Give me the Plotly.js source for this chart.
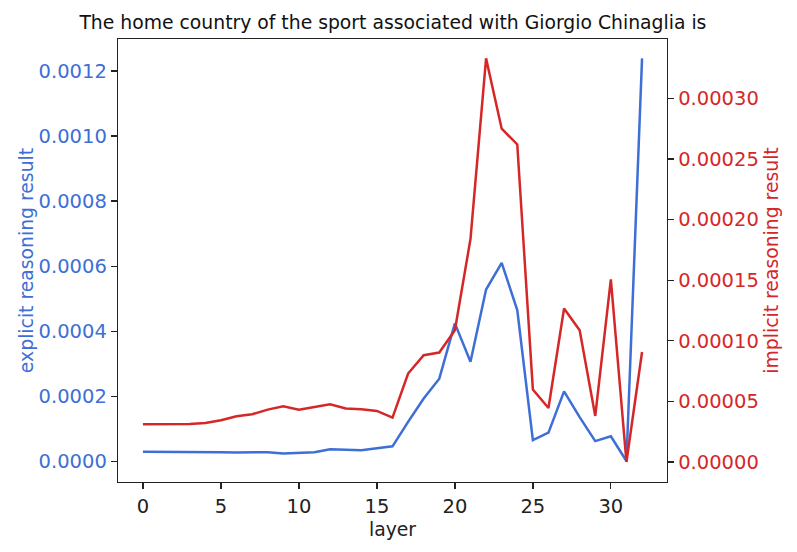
<!DOCTYPE html>
<html>
<head>
<meta charset="utf-8">
<script src="https://cdn.plot.ly/plotly-3.0.1.min.js"></script>
<style>
  body { margin: 0; background: #fff; }
  #chart { width: 797px; height: 552px; }
</style>
</head>
<body>
<div id="chart"></div>
<script>
// layers 0..32
const layers = [0, 1, 2, 3, 4, 5, 6, 7, 8, 9, 10, 11, 12, 13, 14, 15, 16,
  17, 18, 19, 20, 21, 22, 23, 24, 25, 26, 27, 28, 29, 30, 31, 32];

// left axis, blue
const explicitResult = [0.000029, 0.000029, 0.000028, 0.000029, 0.00003, 0.000028,
  0.000027, 0.000028, 0.000028, 0.000024, 0.000025, 0.000028, 0.000037, 0.000036,
  0.000034, 0.00004, 0.000046, 0.000121, 0.000193, 0.000254, 0.000424, 0.000306,
  0.000528, 0.00061, 0.000465, 0.000065, 0.000088, 0.000215, 0.000136, 0.000062,
  0.000077, 0.000001, 0.001239];

// right axis, red
const implicitResult = [0.0000311, 0.0000311, 0.0000311, 0.0000314, 0.0000322, 0.0000344,
  0.0000377, 0.0000394, 0.0000432, 0.000046, 0.0000432, 0.0000455, 0.0000476, 0.0000441,
  0.0000435, 0.0000421, 0.0000366, 0.000073, 0.0000881, 0.0000903, 0.0001087, 0.000184,
  0.000333, 0.000275, 0.000262, 0.0000598, 0.0000446, 0.0001266, 0.0001087, 0.000038,
  0.0001506, 0.0, 0.0000908];

const blue = "#3d6fd6";
const red = "#d62728";
const font = "DejaVu Sans";

const data = [
  {
    x: layers,
    y: explicitResult,
    type: "scatter",
    mode: "lines",
    line: { color: blue, width: 2.5 },
    yaxis: "y",
    showlegend: false
  },
  {
    x: layers,
    y: implicitResult,
    type: "scatter",
    mode: "lines",
    line: { color: red, width: 2.5 },
    yaxis: "y2",
    showlegend: false
  }
];

const layout = {
  width: 797,
  height: 552,
  margin: { l: 118, r: 130, t: 39, b: 70 },
  paper_bgcolor: "#fff",
  plot_bgcolor: "#fff",
  font: { family: font, size: 19.5, color: "#222" },
  title: {
    text: "The home country of the sport associated with Giorgio Chinaglia is",
    font: { family: font, size: 18.8, color: "#111" },
    x: 0.493, xanchor: "center",
    y: 0.96, yanchor: "middle"
  },
  xaxis: {
    title: { text: "layer", font: { size: 18.8, color: "#222" }, standoff: 6 },
    range: [-1.6, 33.6],
    tickvals: [0, 5, 10, 15, 20, 25, 30],
    ticks: "outside", ticklen: 6, tickwidth: 1.3, tickcolor: "#222",
    showgrid: false, zeroline: false,
    showline: true, linecolor: "#222", linewidth: 1.3, mirror: true,
    tickfont: { size: 19.5, color: "#222" }
  },
  yaxis: {
    title: { text: "explicit reasoning result", font: { size: 18.8, color: blue } },
    range: [-0.0000637, 0.0012985],
    tickvals: [0, 0.0002, 0.0004, 0.0006, 0.0008, 0.0010, 0.0012],
    ticktext: ["0.0000", "0.0002", "0.0004", "0.0006", "0.0008", "0.0010", "0.0012"],
    ticks: "outside", ticklen: 6, tickwidth: 1.3, tickcolor: "#222",
    showgrid: false, zeroline: false,
    showline: true, linecolor: "#222", linewidth: 1.3,
    tickfont: { size: 19.5, color: blue }
  },
  yaxis2: {
    title: { text: "implicit reasoning result", font: { size: 18.8, color: red } },
    overlaying: "y",
    side: "right",
    range: [-0.0000165, 0.000349],
    tickvals: [0, 0.00005, 0.0001, 0.00015, 0.0002, 0.00025, 0.0003],
    ticktext: ["0.00000", "0.00005", "0.00010", "0.00015", "0.00020", "0.00025", "0.00030"],
    ticks: "outside", ticklen: 6, tickwidth: 1.3, tickcolor: "#222",
    showgrid: false, zeroline: false,
    showline: true, linecolor: "#222", linewidth: 1.3,
    tickfont: { size: 19.5, color: red }
  }
};

Plotly.newPlot("chart", data, layout, { displayModeBar: false, staticPlot: true });
</script>
</body>
</html>
